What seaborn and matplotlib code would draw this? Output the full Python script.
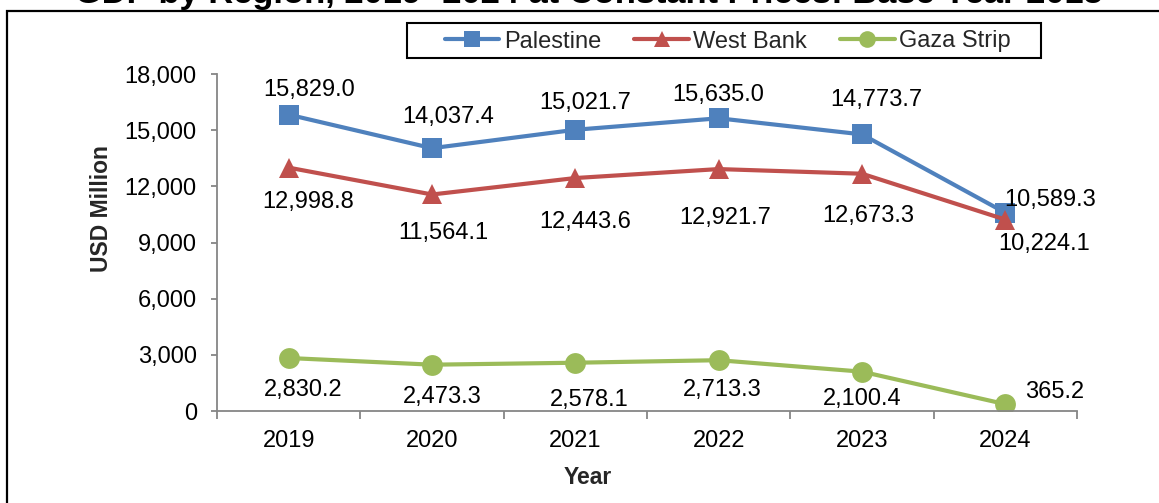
import numpy as np
import pandas as pd
import matplotlib
matplotlib.use("Agg")
import matplotlib.pyplot as plt
from matplotlib.lines import Line2D
from matplotlib.patches import Rectangle
from matplotlib.ticker import FuncFormatter
import seaborn as sns

# GDP by region, USD million at constant 2015 prices
years = ["2019", "2020", "2021", "2022", "2023", "2024"]
palestine = [15829.0, 14037.4, 15021.7, 15635.0, 14773.7, 10589.3]
west_bank = [12998.8, 11564.1, 12443.6, 12921.7, 12673.3, 10224.1]
gaza_strip = [2830.2, 2473.3, 2578.1, 2713.3, 2100.4, 365.2]
regions = ["Palestine", "West Bank", "Gaza Strip"]
y_ticks = [0, 3000, 6000, 9000, 12000, 15000, 18000]

title = "GDP by Region, 2019- 2024 at Constant Prices: Base Year 2015"

colors = {"Palestine": "#4F81BD", "West Bank": "#C0504D", "Gaza Strip": "#9BBB59"}
markers = {"Palestine": "s", "West Bank": "^", "Gaza Strip": "o"}

# value-label offsets in pixels (dx, dy) relative to each point
label_offsets = {
    "Palestine": [(20, 25), (16, 31), (10, 27), (0, 23), (14, 34), (45, 13)],
    "West Bank": [(19, -34), (11, -39), (10, -44), (7, -49), (6, -42), (39, -24)],
    "Gaza Strip": [(15, -32), (10, -32), (14, -37), (4, -30), (0, -27), (49, 12)],
}

series = {"Palestine": palestine, "West Bank": west_bank, "Gaza Strip": gaza_strip}
df = pd.DataFrame({
    "Year": np.tile(np.arange(len(years)), len(regions)),
    "Value": palestine + west_bank + gaza_strip,
    "Region": np.repeat(regions, len(years)),
})

sns.set_theme(style="white")
plt.rcParams["font.family"] = ["Liberation Sans", "DejaVu Sans"]

W, H = 1159, 503
fig = plt.figure(figsize=(W / 100, H / 100), dpi=100)
fig.patch.set_facecolor("white")

ax_l, ax_r, ax_t, ax_b = 217, 1077, 74, 411
ax = fig.add_axes([ax_l / W, 1 - ax_b / H, (ax_r - ax_l) / W, (ax_b - ax_t) / H])

sns.lineplot(data=df, x="Year", y="Value", hue="Region", style="Region",
             hue_order=regions, style_order=regions,
             markers=markers, dashes=False, palette=colors,
             linewidth=3, markersize=15, markeredgewidth=0, ax=ax)
ax.get_legend().remove()

# data labels
for name in regions:
    for i, v in enumerate(series[name]):
        dx, dy = label_offsets[name][i]
        ax.annotate(f"{v:,.1f}", (i, v), xytext=(dx, dy), textcoords="offset pixels",
                    ha="center", va="center", fontsize=17, color="black")

# axes styling
axis_grey = "#868686"
ax.set_ylim(0, 18000)
ax.set_yticks(y_ticks)
ax.yaxis.set_major_formatter(FuncFormatter(lambda v, p: f"{v:,.0f}"))
ax.set_xlim(-0.5, len(years) - 0.5)
ax.set_xticks(range(len(years)))
ax.set_xticklabels(years)
ax.set_xticks(np.arange(-0.5, len(years)), minor=True)
ax.tick_params(axis="x", which="major", length=0, pad=14, labelsize=17, colors="black")
ax.tick_params(axis="x", which="minor", length=6, width=1.3, color=axis_grey, direction="out", bottom=True)
ax.tick_params(axis="y", which="major", length=4.5, width=1.3, color=axis_grey, direction="out",
               pad=10, labelsize=17, labelcolor="black", left=True)
for side in ("top", "right"):
    ax.spines[side].set_visible(False)
for side in ("left", "bottom"):
    ax.spines[side].set_color(axis_grey)
    ax.spines[side].set_linewidth(1.3)
ax.grid(False)

ax.set_ylabel("USD Million", fontsize=16.5, fontweight="bold", va="center")
ax.yaxis.set_label_coords((101.5 - ax_l) / (ax_r - ax_l), (ax_b - 209) / (ax_b - ax_t))
ax.set_xlabel("Year", fontsize=16.5, fontweight="bold", va="center")
ax.xaxis.set_label_coords((588 - ax_l) / (ax_r - ax_l), (ax_b - 478) / (ax_b - ax_t))

# legend entries, with a separate box drawn around them
handles = [Line2D([], [], color=colors[r], marker=markers[r], linewidth=3,
                  markersize=12, markeredgewidth=0) for r in regions]
leg = fig.legend(handles, regions, loc="center", bbox_to_anchor=(728 / W, 1 - 41.5 / H),
                 ncol=3, frameon=False, fontsize=17,
                 handlelength=2.3, handletextpad=0.2, columnspacing=1.4,
                 borderpad=0.3, borderaxespad=0)
fig.add_artist(Rectangle((407 / W, 1 - 58 / H), (1041 - 407) / W, 35 / H,
                         transform=fig.transFigure, fill=False,
                         edgecolor="black", linewidth=1.5))

# outer frame and title
fig.add_artist(Rectangle((7 / W, -0.1), 1.2, 1 - 11 / H + 0.1, transform=fig.transFigure,
                         fill=False, edgecolor="black", linewidth=1.6))
fig.text(589 / W, 1 - 2.5 / H, title, ha="center", va="baseline",
         fontsize=24.8, fontweight="bold", color="black")

fig.savefig("out.png", dpi=100)
